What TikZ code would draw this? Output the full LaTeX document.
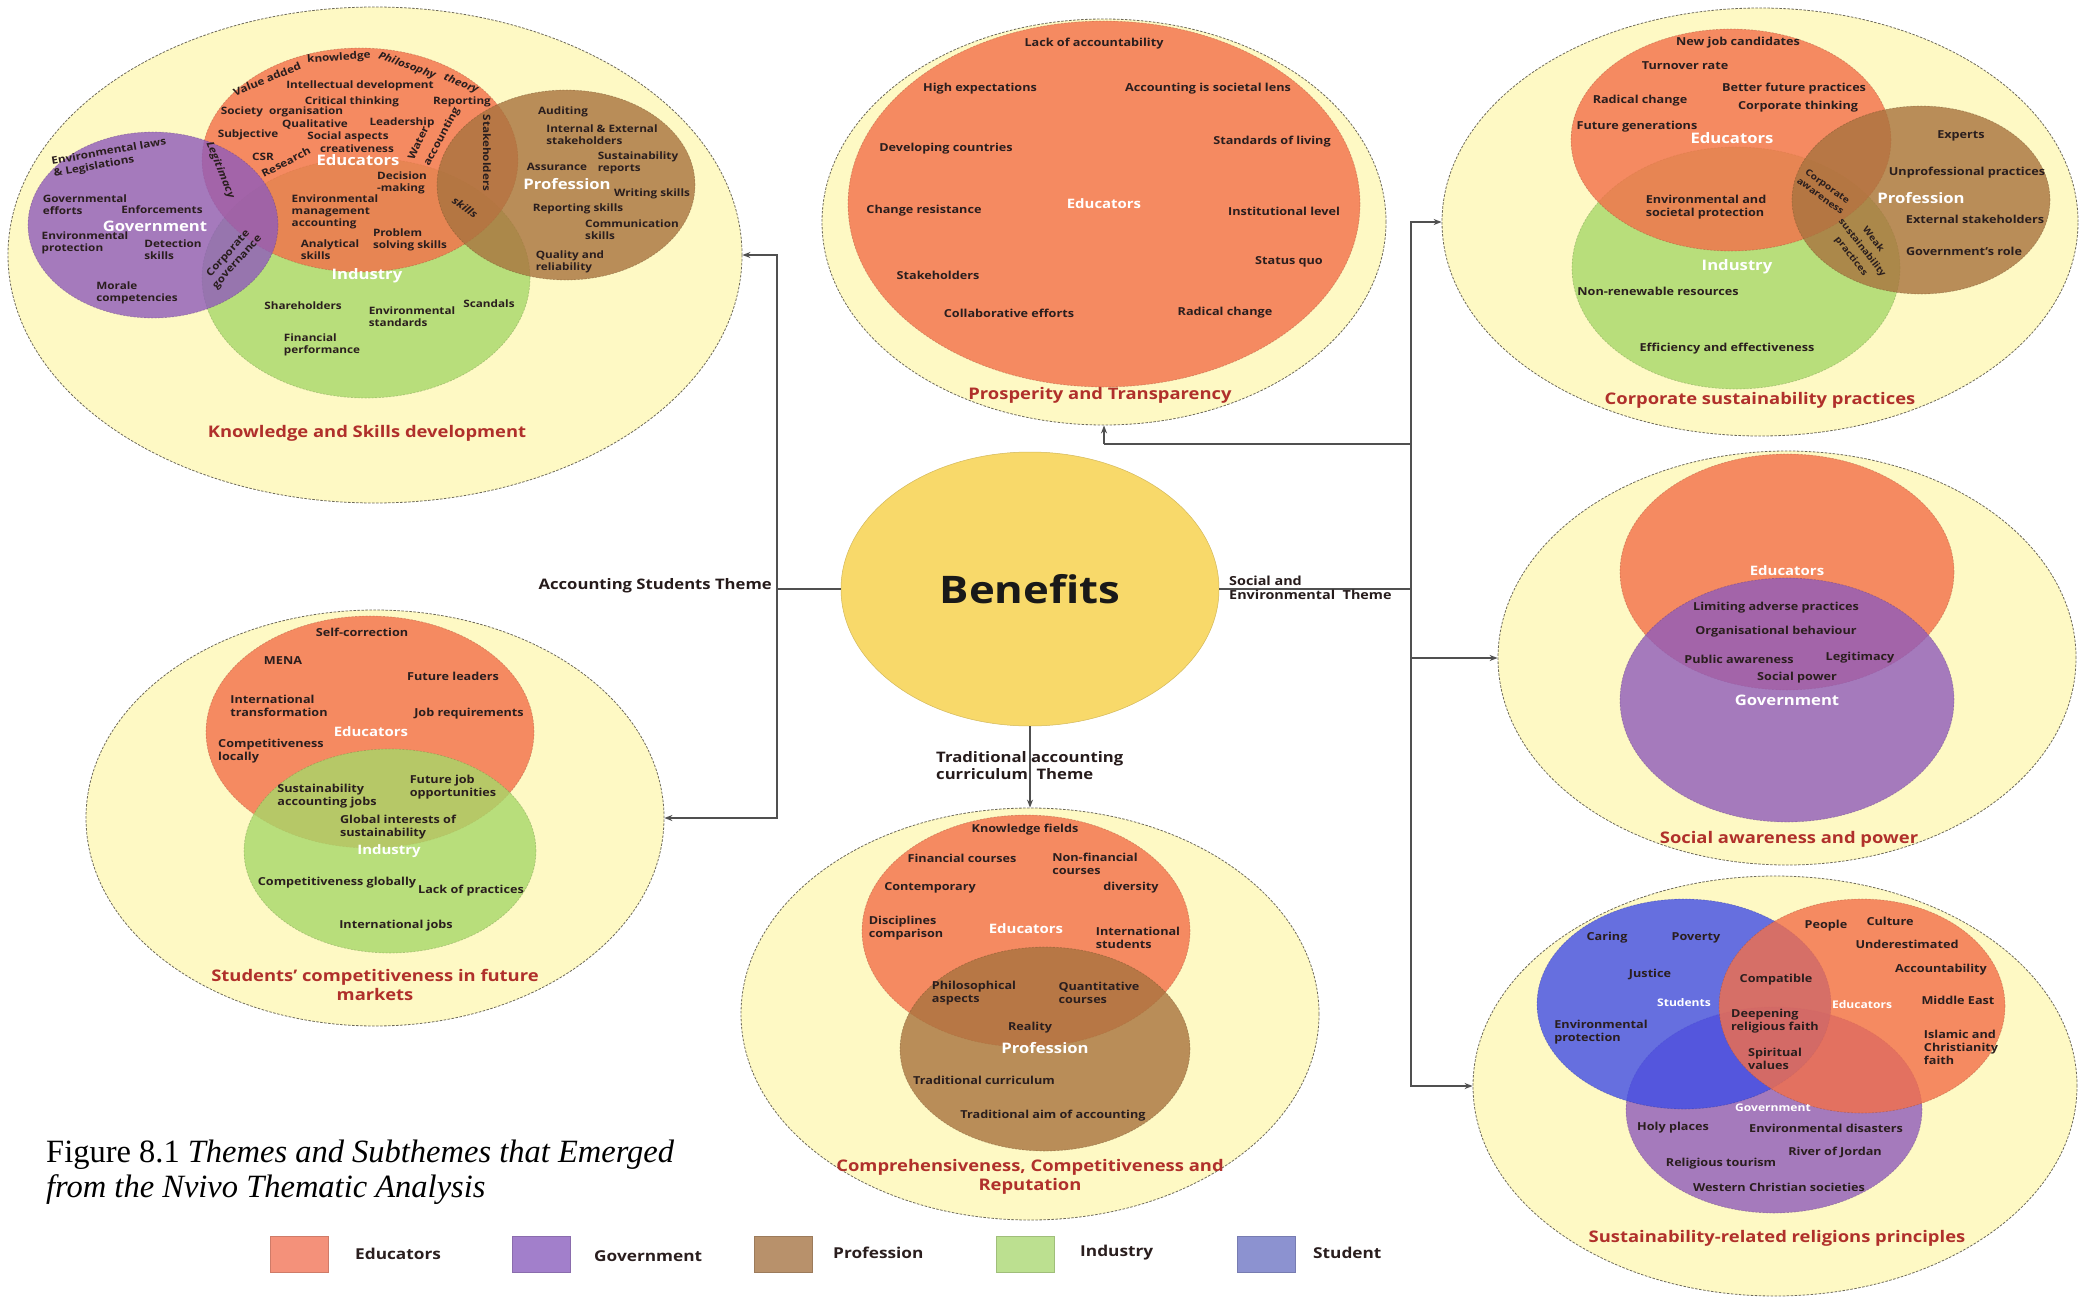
\documentclass[tikz,border=0pt]{standalone}
\usepackage{fontspec}
\setmainfont{Open Sans}[FakeStretch=1.15]
\newfontfamily\captfont{Liberation Serif}
\usetikzlibrary{shapes.geometric,arrows.meta}

\definecolor{paper}{HTML}{FEF9C4}
\definecolor{rim}{HTML}{6E6A5A}
\definecolor{edu}{HTML}{F36F49}
\definecolor{gov}{HTML}{8F5BBB}
\definecolor{prof}{HTML}{A8733E}
\definecolor{ind}{HTML}{A7D869}
\definecolor{stu}{HTML}{404DE6}
\definecolor{benefit}{HTML}{F8D96A}
\definecolor{titlered}{HTML}{B0302B}
\definecolor{ink}{HTML}{2A1E1E}
\definecolor{linegray}{HTML}{505050}
\definecolor{lgedu}{HTML}{F4917A}
\definecolor{lggov}{HTML}{A27FCB}
\definecolor{lgprof}{HTML}{B8916B}
\definecolor{lgind}{HTML}{BCE090}
\definecolor{lgstu}{HTML}{8C92D0}

\tikzset{
  panel/.style={ellipse, inner sep=0, fill=paper, draw=rim, line width=0.8,
    dash pattern=on 2.5pt off 1.5pt},
  circ/.style={ellipse, inner sep=0, fill opacity=0.8, draw opacity=0.35,
    line width=0.7, dash pattern=on 2pt off 1.5pt},
  vedu/.style={circ, fill=edu, draw=edu!60!black},
  vgov/.style={circ, fill=gov, draw=gov!60!black},
  vprof/.style={circ, fill=prof, draw=prof!60!black},
  vind/.style={circ, fill=ind, draw=ind!60!black},
  vstu/.style={circ, fill=stu, draw=stu!60!black},
  tA/.style={inner sep=0, text=ink, align=center, font=\fontsize{10.2}{12.2}\selectfont\bfseries},
  t/.style={inner sep=0, text=ink, align=center, font=\fontsize{11}{13}\selectfont\bfseries},
  tr/.style={inner sep=0, text=ink, align=center, font=\fontsize{9}{12}\selectfont\bfseries},
  wlA/.style={inner sep=0, text=white, font=\fontsize{14.5}{16}\selectfont\bfseries},
  wl/.style={inner sep=0, text=white, font=\fontsize{13}{15}\selectfont\bfseries},
  wls/.style={inner sep=0, text=white, font=\fontsize{10.5}{12}\selectfont\bfseries},
  ttl/.style={inner sep=0, text=titlered, align=center, font=\fontsize{16}{18.5}\selectfont\bfseries},
  theme/.style={inner sep=0, text=ink!90!black, font=\fontsize{12.5}{14.5}\selectfont\bfseries},
  bigtheme/.style={inner sep=0, text=ink!90!black, font=\fontsize{14.5}{17}\selectfont\bfseries},
  link/.style={draw=linegray, line width=1.3},
  arr/.style={link, -{Stealth[length=8pt,width=6pt]}},
  legbox/.style={minimum width=58, minimum height=36, inner sep=0, line width=0.8},
  leglbl/.style={inner sep=0, anchor=west, text=ink, font=\fontsize{15}{17}\selectfont\bfseries},
}

\begin{document}
\begin{tikzpicture}[x=1pt,y=-1pt]
\fill[white] (0,0) rectangle (2084,1298);
\useasboundingbox (0,0) rectangle (2084,1298);

% ---------- central node ----------
\node[ellipse, inner sep=0, fill=benefit, draw=benefit!85!black, line width=0.5,
  minimum width=378, minimum height=274] (ben) at (1030,589) {};
\node[inner sep=0, text=black!90, font=\fontsize{38}{44}\selectfont\bfseries] (bent) at (1030,589) {Benefits};

% ---------- Knowledge and Skills development ----------
\node[panel, minimum width=734, minimum height=496] (pA) at (375,255) {};
\node[vind, minimum width=328, minimum height=240] (aI) at (366,278) {};
\node[vedu, minimum width=316, minimum height=224] (aE) at (360,160) {};
\node[vgov, minimum width=250, minimum height=186] (aG) at (153,225) {};
\node[vprof, minimum width=258, minimum height=190] (aP) at (566,185) {};

\node[tA, rotate=4] (a1) at (339,58) {knowledge};
\node[tA, rotate=22] (a2) at (267,79) {Value added};
\node[tA, rotate=-20] (a3) at (407,66) {\itshape Philosophy};
\node[tA, rotate=-22] (a4) at (461,84) {\itshape theory};
\node[tA] (a5) at (360,86) {Intellectual development};
\node[tA] (a6) at (352,102) {Critical thinking};
\node[tA] (a7) at (462,102) {Reporting};
\node[tA] (a8) at (282,112) {Society\ \ organisation};
\node[tA] (a9) at (315,124) {Qualitative};
\node[tA] (a10) at (402,123) {Leadership};
\node[tA] (a11) at (248,135) {Subjective};
\node[tA] (a12) at (348,137) {Social aspects};
\node[tA] (a13) at (357,149) {creativeness};
\node[tA, rotate=65] (a14) at (418,143) {Water};
\node[tA, rotate=62] (a15) at (442,137) {accounting};
\node[tA] (a16) at (263,157) {CSR};
\node[tA, rotate=27] (a17) at (286,162) {Research};
\node[wlA] (a18) at (358,160) {Educators};
\node[tA, rotate=-90] (a19) at (487,153) {Stakeholders};
\node[tA, rotate=-68] (a20) at (220,170) {\itshape Legitimacy};
\node[tA, align=left] (a21) at (402,183) {Decision\\-making};
\node[tA, align=left] (a22) at (335,212) {Environmental\\management\\accounting};
\node[tA, rotate=-35] (a23) at (465,207) {\itshape skills};
\node[tA, align=left] (a24) at (410,240) {Problem\\solving skills};
\node[tA, align=left] (a25) at (330,250) {Analytical\\skills};
\node[wlA] (a26) at (367,276) {Industry};
\node[tA, rotate=48] (a27) at (233,258) {Corporate\\governance};
\node[tA] (a28) at (303,306) {Shareholders};
\node[tA, align=left] (a29) at (412,317) {Environmental\\standards};
\node[tA] (a30) at (489,304) {Scandals};
\node[tA, align=left] (a31) at (322,345) {Financial\\performance};
\node[tA, align=left, rotate=10] (a33) at (110,158) {Environmental laws\\\& Legislations};
\node[tA, align=left] (a34) at (85,205) {Governmental\\efforts};
\node[tA] (a35) at (162,210) {Enforcements};
\node[wlA] (a36) at (155,226) {Government};
\node[tA, align=left] (a37) at (85,243) {Environmental\\protection};
\node[tA, align=left] (a38) at (173,250) {Detection\\skills};
\node[tA, align=left] (a39) at (137,293) {Morale\\competencies};
\node[tA] (a40) at (563,112) {Auditing};
\node[tA, align=left] (a41) at (602,135) {Internal \& External\\stakeholders};
\node[tA] (a42) at (557,167) {Assurance};
\node[tA, align=left] (a43) at (638,163) {Sustainability\\reports};
\node[wlA] (a44) at (567,184) {Profession};
\node[tA] (a45) at (652,194) {Writing skills};
\node[tA] (a46) at (578,209) {Reporting skills};
\node[tA, align=left] (a47) at (632,230) {Communication\\skills};
\node[tA, align=left] (a48) at (570,262) {Quality and\\reliability};
\node[ttl] (a32) at (367,433) {Knowledge and Skills development};

% ---------- Prosperity and Transparency ----------
\node[panel, minimum width=564, minimum height=406] (pB) at (1104,222) {};
\node[vedu, minimum width=512, minimum height=366] (bE) at (1104,204) {};
\node[t] (b1) at (1094,44) {Lack of accountability};
\node[t] (b2) at (980,89) {High expectations};
\node[t] (b3) at (1208,89) {Accounting is societal lens};
\node[t] (b4) at (946,149) {Developing countries};
\node[t] (b5) at (1272,142) {Standards of living};
\node[wl] (b6) at (1104,204) {Educators};
\node[t] (b7) at (924,211) {Change resistance};
\node[t] (b8) at (1284,211) {Institutional level};
\node[t] (b9) at (1289,262) {Status quo};
\node[t] (b10) at (938,275) {Stakeholders};
\node[t] (b11) at (1009,313) {Collaborative efforts};
\node[t] (b12) at (1225,313) {Radical change};
\node[ttl] (b13) at (1100,395) {Prosperity and Transparency};

% ---------- Corporate sustainability practices ----------
\node[panel, minimum width=636, minimum height=428] (pE) at (1760,222) {};
\node[vind, minimum width=328, minimum height=242] (eI) at (1736,268) {};
\node[vedu, minimum width=320, minimum height=222] (eE) at (1731,140) {};
\node[vprof, minimum width=258, minimum height=188] (eP) at (1921,200) {};
\node[t] (e1) at (1738,43) {New job candidates};
\node[t] (e2) at (1685,66) {Turnover rate};
\node[t] (e3) at (1794,89) {Better future practices};
\node[t] (e4) at (1640,101) {Radical change};
\node[t] (e5) at (1798,107) {Corporate thinking};
\node[t] (e6) at (1637,127) {Future generations};
\node[wlA] (e7) at (1732,138) {Educators};
\node[t] (e8) at (1961,136) {Experts};
\node[t] (e9) at (1967,173) {Unprofessional practices};
\node[wlA] (e10) at (1921,198) {Profession};
\node[t, align=left] (e11) at (1706,207) {Environmental and\\societal protection};
\node[tr, rotate=-36] (e12) at (1824,191) {Corporate\\awareness};
\node[t] (e13) at (1975,219) {External stakeholders};
\node[tr, rotate=-52, font=\fontsize{9}{14}\selectfont\bfseries] (e14) at (1862,248) {Weak\\sustainability\\practices};
\node[t] (e15) at (1964,251) {Government’s role};
\node[wlA] (e16) at (1737,267) {Industry};
\node[t] (e17) at (1658,291) {Non-renewable resources};
\node[t] (e18) at (1727,349) {Efficiency and effectiveness};
\node[ttl] (e19) at (1760,400) {Corporate sustainability practices};

% ---------- Students' competitiveness ----------
\node[panel, minimum width=578, minimum height=416] (pC) at (375,818) {};
\node[vedu, minimum width=328, minimum height=232] (cE) at (370,732) {};
\node[vind, minimum width=292, minimum height=204] (cI) at (390,851) {};
\node[t] (c1) at (362,632) {Self-correction};
\node[t] (c2) at (283,661) {MENA};
\node[t] (c3) at (453,676) {Future leaders};
\node[t, align=left] (c4) at (279,706) {International\\transformation};
\node[t] (c5) at (469,714) {Job requirements};
\node[wl] (c6) at (371,732) {Educators};
\node[t, align=left] (c7) at (271,751) {Competitiveness\\locally};
\node[t, align=left] (c8) at (453,787) {Future job\\opportunities};
\node[t, align=left] (c9) at (327,796) {Sustainability\\accounting jobs};
\node[t, align=left] (c10) at (398,827) {Global interests of\\sustainability};
\node[wl] (c11) at (389,851) {Industry};
\node[t] (c12) at (337,883) {Competitiveness globally};
\node[t] (c13) at (471,891) {Lack of practices};
\node[t] (c14) at (396,926) {International jobs};
\node[ttl] (c15) at (375,985) {Students’ competitiveness in future\\markets};

% ---------- Social awareness and power ----------
\node[panel, minimum width=578, minimum height=414] (pF) at (1787,658) {};
\node[vedu, minimum width=334, minimum height=236] (fE) at (1787,572) {};
\node[vgov, minimum width=334, minimum height=244] (fG) at (1787,700) {};
\node[wl] (f1) at (1787,571) {Educators};
\node[t] (f2) at (1776,608) {Limiting adverse practices};
\node[t] (f3) at (1776,632) {Organisational behaviour};
\node[t] (f4) at (1739,659) {Public awareness};
\node[t] (f5) at (1860,658) {Legitimacy};
\node[t] (f6) at (1797,678) {Social power};
\node[wlA] (f7) at (1787,700) {Government};
\node[ttl] (f8) at (1789,839) {Social awareness and power};

% ---------- Comprehensiveness, Competitiveness and Reputation ----------
\node[panel, minimum width=578, minimum height=412] (pG) at (1030,1014) {};
\node[vedu, minimum width=328, minimum height=232] (gE) at (1026,931) {};
\node[vprof, minimum width=290, minimum height=204] (gP) at (1045,1049) {};
\node[t] (g1) at (1025,830) {Knowledge fields};
\node[t] (g2) at (962,858) {Financial courses};
\node[t, align=left] (g3) at (1095,864) {Non-financial\\courses};
\node[t] (g4) at (930,888) {Contemporary};
\node[t] (g5) at (1131,888) {diversity};
\node[t, align=left] (g6) at (906,928) {Disciplines\\comparison};
\node[wl] (g7) at (1026,929) {Educators};
\node[t, align=left] (g8) at (1138,938) {International\\students};
\node[t, align=left] (g9) at (974,993) {Philosophical\\aspects};
\node[t, align=left] (g10) at (1099,993) {Quantitative\\courses};
\node[t] (g11) at (1030,1028) {Reality};
\node[wlA] (g12) at (1045,1048) {Profession};
\node[t] (g13) at (984,1080) {Traditional curriculum};
\node[t] (g14) at (1053,1116) {Traditional aim of accounting};
\node[ttl] (g15) at (1030,1177) {Comprehensiveness, Competitiveness and\\Reputation};

% ---------- Sustainability-related religions principles ----------
\node[panel, minimum width=604, minimum height=420] (pH) at (1775,1086) {};
\node[vgov, minimum width=296, minimum height=206] (hG) at (1774,1110) {};
\node[vstu, minimum width=294, minimum height=210] (hS) at (1684,1004) {};
\node[vedu, minimum width=286, minimum height=214] (hE) at (1862,1006) {};
\node[t] (h1) at (1607,938) {Caring};
\node[t] (h2) at (1696,938) {Poverty};
\node[t] (h3) at (1826,926) {People};
\node[t] (h4) at (1890,921) {Culture};
\node[t] (h5) at (1907,944) {Underestimated};
\node[t] (h6) at (1650,974) {Justice};
\node[t] (h7) at (1776,980) {Compatible};
\node[t] (h8) at (1941,970) {Accountability};
\node[wls] (h9) at (1684,1003) {Students};
\node[wls] (h10) at (1862,1005) {Educators};
\node[t] (h11) at (1958,1000) {Middle East};
\node[t, align=left] (h12) at (1775,1021) {Deepening\\religious faith};
\node[t, align=left] (h13) at (1601,1032) {Environmental\\protection};
\node[t, align=left] (h14) at (1961,1047) {Islamic and\\Christianity\\faith};
\node[t, align=left] (h15) at (1775,1059) {Spiritual\\values};
\node[wls] (h16) at (1773,1108) {Government};
\node[t] (h17) at (1673,1128) {Holy places};
\node[t] (h18) at (1826,1128) {Environmental disasters};
\node[t] (h19) at (1835,1152) {River of Jordan};
\node[t] (h20) at (1721,1164) {Religious tourism};
\node[t] (h21) at (1779,1187) {Western Christian societies};
\node[ttl] (h22) at (1777,1238) {Sustainability-related religions principles};

% ---------- connectors ----------
\coordinate (jl) at (777,589);
\coordinate (jr) at (1411,589);
\coordinate (jb) at (1104,444);
\draw[link] (ben.west) -- (jl);
\draw[arr] (jl) |- (pA.east);
\draw[arr] (jl) |- (pC.east);
\draw[link] (ben.east) -- (jr);
\draw[arr] (jr) |- (pE.west);
\draw[arr] (jr) |- (pF.west);
\draw[arr] (jr) |- (pH.west);
\draw[link] (jr) |- (jb);
\draw[arr] (jb) -- (pB.south);
\draw[arr] (ben.south) -- (pG.north);

\node[bigtheme, anchor=east] (thA) at (772,586) {Accounting Students Theme};
\node[theme, anchor=west, align=left] (thB) at (1229,588) {Social and\\Environmental\ \ Theme};
\node[bigtheme, anchor=west, align=left] (thC) at (936,766) {Traditional accounting\\curriculum\ \ Theme};

% ---------- caption ----------
\node[inner sep=0, anchor=base west, font=\captfont\fontsize{32.5}{37}\selectfont] (cap1) at (46,1162)
  {Figure 8.1 \textit{Themes and Subthemes that Emerged}};
\node[inner sep=0, anchor=base west, font=\captfont\fontsize{32.5}{37}\selectfont] (cap2) at (46,1197)
  {\textit{from the Nvivo Thematic Analysis}};

% ---------- legend ----------
\node[legbox, fill=lgedu, draw=lgedu!85!black] (l1) at (299,1254) {};
\node[leglbl] (l1t) at (355,1254) {Educators};
\node[legbox, fill=lggov, draw=lggov!85!black] (l2) at (541,1254) {};
\node[leglbl] (l2t) at (594,1256) {Government};
\node[legbox, fill=lgprof, draw=lgprof!85!black] (l3) at (783,1254) {};
\node[leglbl] (l3t) at (833,1253) {Profession};
\node[legbox, fill=lgind, draw=lgind!85!black] (l4) at (1025,1254) {};
\node[leglbl] (l4t) at (1080,1253) {Industry};
\node[legbox, fill=lgstu, draw=lgstu!85!black] (l5) at (1266,1254) {};
\node[leglbl] (l5t) at (1313,1253) {Student};
\end{tikzpicture}
\end{document}
